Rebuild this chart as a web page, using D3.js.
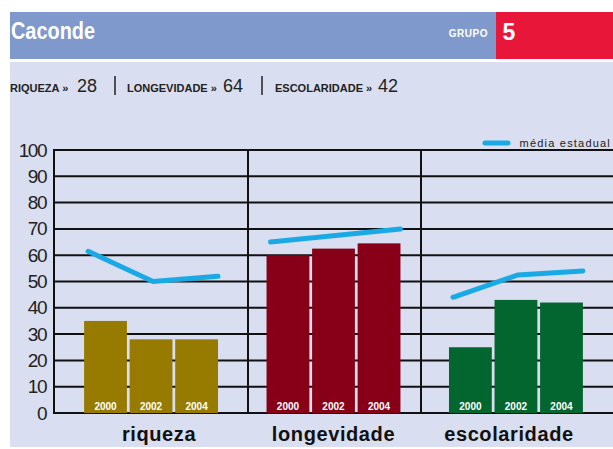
<!DOCTYPE html>
<html>
<head>
<meta charset="utf-8">
<script src="https://cdn.jsdelivr.net/npm/d3@7"></script>
<style>
  body { margin: 0; background: #fff; }
  svg { display: block; }
  text { font-family: "Liberation Sans Narrow", "Liberation Sans", Arial, sans-serif; }
</style>
</head>
<body>
<div id="graph"></div>
<script>
var groups = ["riqueza", "longevidade", "escolaridade"];
var years = ["2000", "2002", "2004"];
var riqueza = [35, 28, 28];
var longevidade = [60, 62.5, 64.5];
var escolaridade = [25, 43, 42];
var mediaRiqueza = [61.5, 50, 52];
var mediaLongevidade = [65, 67.5, 70];
var mediaEscolaridade = [44, 52.5, 54];
var yTicks = [0, 10, 20, 30, 40, 50, 60, 70, 80, 90, 100];
var indices = [["RIQUEZA", "28"], ["LONGEVIDADE", "64"], ["ESCOLARIDADE", "42"]];
var colors = {riqueza: "#967b00", longevidade: "#870018", escolaridade: "#03662f"};

function setup() {
  var W = 613, H = 449;
  var svg = d3.select("#graph").append("svg").attr("width", W).attr("height", H);

  // header
  svg.append("rect").attr("x", 10).attr("y", 12).attr("width", W - 10).attr("height", 47).attr("fill", "#7f99cc");
  svg.append("rect").attr("x", 496).attr("y", 12).attr("width", W - 496).attr("height", 47).attr("fill", "#e8173a");
  svg.append("text").attr("x", 11).attr("y", 39).attr("fill", "#fff")
    .attr("textLength", 84).attr("lengthAdjust", "spacingAndGlyphs")
    .style("font-size", "23px").style("font-weight", "bold").text("Caconde");
  svg.append("text").attr("x", 488).attr("y", 37).attr("text-anchor", "end").attr("fill", "#fff")
    .style("font-size", "10px").style("font-weight", "bold").style("letter-spacing", "0.5px").text("GRUPO");
  svg.append("text").attr("x", 509).attr("y", 40).attr("text-anchor", "middle").attr("fill", "#fff")
    .style("font-size", "23px").style("font-weight", "bold").text("5");

  // panel
  svg.append("rect").attr("x", 10).attr("y", 62).attr("width", W - 10).attr("height", 385).attr("fill", "#d9def0");

  // index line
  var idxX = [[10, 77], [127, 223], [275, 378]];
  indices.forEach(function(d, i) {
    svg.append("text").attr("x", idxX[i][0]).attr("y", 92).attr("fill", "#222")
      .style("font-size", "11px").style("font-weight", "bold").text(d[0] + " \u00bb");
    svg.append("text").attr("x", idxX[i][1]).attr("y", 92).attr("fill", "#222")
      .style("font-size", "18px").style("font-family", "'Liberation Sans', Arial, sans-serif").text(d[1]);
  });
  [115, 262].forEach(function(x) {
    svg.append("line").attr("x1", x).attr("x2", x).attr("y1", 76).attr("y2", 95)
      .attr("stroke", "#222").attr("stroke-width", 1.5);
  });

  // scales
  var y = d3.scaleLinear().domain([0, 100]).range([413, 150]);
  var x0 = d3.scaleBand().domain(groups).range([54, W]).paddingInner(0.266).paddingOuter(0.165);
  var x1 = d3.scaleBand().domain(years).range([0, x0.bandwidth()]).paddingInner(0.06);

  // grid
  svg.append("g").selectAll("line").data(yTicks).enter().append("line")
    .attr("x1", 54).attr("x2", W).attr("y1", function(d) { return y(d); }).attr("y2", function(d) { return y(d); })
    .attr("stroke", "#111").attr("stroke-width", 2);
  [54, 248, 421].forEach(function(x) {
    svg.append("line").attr("x1", x).attr("x2", x).attr("y1", y(100) - 1).attr("y2", y(0) + 1)
      .attr("stroke", "#111").attr("stroke-width", 2);
  });

  // y axis labels
  var yAxis = d3.axisLeft(y).tickValues(yTicks).tickSize(0).tickPadding(8);
  var ga = svg.append("g").attr("transform", "translate(54,0)").call(yAxis);
  ga.select(".domain").remove();
  ga.selectAll("text").attr("fill", "#222").style("font-size", "19px")
    .style("font-family", "'Liberation Sans', Arial, sans-serif").style("letter-spacing", "-1.5px");

  var series = {riqueza: riqueza, longevidade: longevidade, escolaridade: escolaridade};
  var medias = {riqueza: mediaRiqueza, longevidade: mediaLongevidade, escolaridade: mediaEscolaridade};
  var labelShift = [8, 0, -7];

  groups.forEach(function(g, gi) {
    var gg = svg.append("g").attr("transform", "translate(" + x0(g) + ",0)");
    gg.selectAll("rect").data(series[g]).enter().append("rect")
      .attr("x", function(d, i) { return x1(years[i]); })
      .attr("y", function(d) { return y(d); })
      .attr("width", x1.bandwidth())
      .attr("height", function(d) { return y(0) - y(d); })
      .attr("fill", colors[g]);
    gg.selectAll("text.yr").data(years).enter().append("text").attr("class", "yr")
      .attr("x", function(d) { return x1(d) + x1.bandwidth() / 2; })
      .attr("y", 410).attr("text-anchor", "middle").attr("fill", "#fff")
      .style("font-size", "10px").style("font-weight", "bold").text(function(d) { return d; });

    var lx = d3.scalePoint().domain(years).range([4, x0.bandwidth()]);
    gg.append("path").datum(medias[g])
      .attr("d", d3.line().x(function(d, i) { return lx(years[i]); }).y(function(d) { return y(d); }))
      .attr("fill", "none").attr("stroke", "#19aae6").attr("stroke-width", 5).attr("stroke-linecap", "round");

    svg.append("text").attr("x", x0(g) + x0.bandwidth() / 2 + labelShift[gi]).attr("y", 441).attr("text-anchor", "middle")
      .attr("fill", "#111").style("font-size", "20px").style("font-weight", "bold").style("letter-spacing", "0.6px")
      .style("font-family", "'Liberation Sans', Arial, sans-serif").text(g);
  });

  // legend
  svg.append("line").attr("x1", 485).attr("x2", 508).attr("y1", 143).attr("y2", 143)
    .attr("stroke", "#19aae6").attr("stroke-width", 5).attr("stroke-linecap", "round");
  svg.append("text").attr("x", 611).attr("y", 147).attr("text-anchor", "end").attr("fill", "#222")
    .style("font-size", "11px").style("letter-spacing", "1.2px")
    .style("font-family", "'Liberation Sans', Arial, sans-serif").text("média estadual");
}

window.addEventListener('load', setup);
</script>
</body>
</html>
